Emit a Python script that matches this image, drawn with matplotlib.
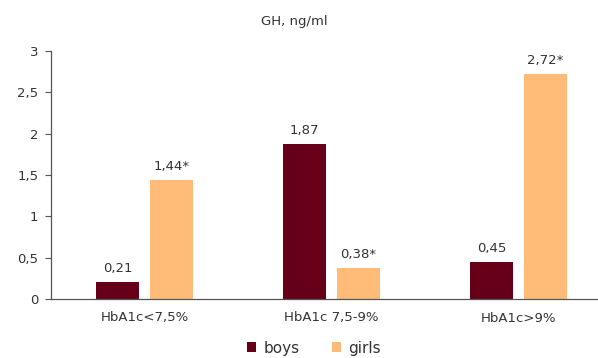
import numpy as np
import matplotlib.pyplot as plt
from matplotlib.ticker import FuncFormatter

plt.rcParams['font.family'] = 'DejaVu Sans'
plt.rcParams['font.size'] = 9.5

categories = ['HbA1c<7,5%', 'HbA1c 7,5-9%', 'HbA1c>9%']
boys = [0.21, 1.87, 0.45]
girls = [1.44, 0.38, 2.72]
boys_lbl = ['0,21', '1,87', '0,45']
girls_lbl = ['1,44*', '0,38*', '2,72*']

c_boys = '#660019'
c_girls = '#FFBB77'
txt = '#333333'

fig = plt.figure(figsize=(5.98, 3.58), dpi=100)
ax = fig.add_axes([51/598, 1-299/358, 546/598, 248/358])

x = np.arange(len(categories))
w = 0.23
off = 0.145
b1 = ax.bar(x - off, boys, w, color=c_boys, label='boys')
b2 = ax.bar(x + off, girls, w, color=c_girls, label='girls')

for rect, s in zip(b1, boys_lbl):
    ax.annotate(s, (rect.get_x() + rect.get_width()/2, rect.get_height()),
                xytext=(0, 5), textcoords='offset points', ha='center', va='bottom', color=txt)
for rect, s in zip(b2, girls_lbl):
    ax.annotate(s, (rect.get_x() + rect.get_width()/2, rect.get_height()),
                xytext=(0, 5), textcoords='offset points', ha='center', va='bottom', color=txt)

ax.set_xlim(-0.5, 2.42)
ax.set_ylim(0, 3)
ax.set_yticks(np.arange(0, 3.01, 0.5))
ax.yaxis.set_major_formatter(FuncFormatter(lambda v, p: ('%g' % v).replace('.', ',')))
ax.set_xticks(x)
ax.set_xticklabels(categories)
ax.tick_params(axis='x', length=0, pad=9, colors=txt)
ax.tick_params(axis='y', length=4, width=0.8, colors='#555555', labelcolor=txt, pad=5)
for s in ['top', 'right']:
    ax.spines[s].set_visible(False)
for s in ['left', 'bottom']:
    ax.spines[s].set_color('#555555')
    ax.spines[s].set_linewidth(0.9)

fig.text(294/598, 1-22/358, 'GH, ng/ml', ha='center', va='center', color=txt)

fig.legend(loc='center', bbox_to_anchor=(314/598, 1-348/358), ncol=2, frameon=False,
           fontsize=11, handlelength=0.6, handleheight=0.6, columnspacing=2.1,
           handletextpad=0.5, labelcolor=txt, borderpad=0.1)

fig.savefig('out.png', dpi=100)
